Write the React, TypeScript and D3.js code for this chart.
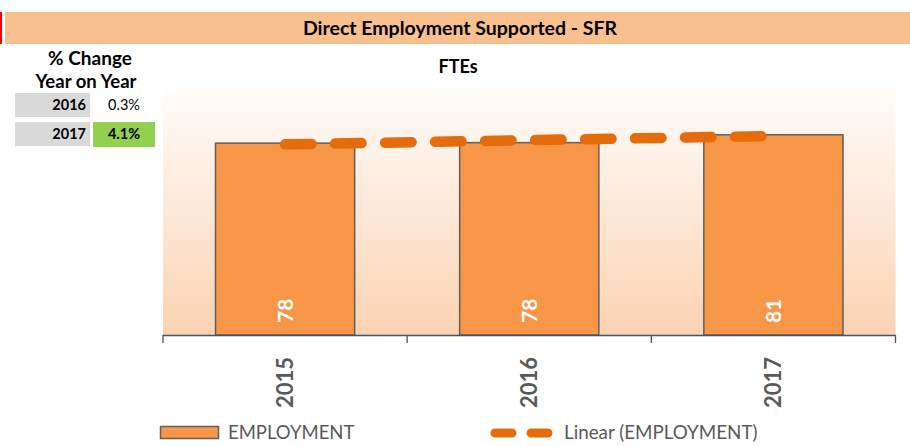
import React from "react";
import * as d3 from "d3";

const years = ["2015", "2016", "2017"];
const employment = [78.0, 78.2, 81.4];
const valueLabels = ["78", "78", "81"];
const changeYears = ["2016", "2017"];
const changeLabels = ["0.3%", "4.1%"];
const changeHighlight = [false, true];
const yDomain = [0, 100];

const W = 910;
const H = 446;
const plotLeft = 163;
const plotRight = 895.5;
const plotTop = 89;
const plotBottom = 335;

export default function App() {
  const x = d3
    .scaleBand<string>()
    .domain(years)
    .range([plotLeft, plotRight])
    .paddingInner(0.43)
    .paddingOuter(0.215);
  const y = d3.scaleLinear().domain(yDomain).range([plotBottom, plotTop]);

  // linear trend (least squares) on index
  const n = employment.length;
  const idx = d3.range(n);
  const mx = d3.mean(idx) as number;
  const my = d3.mean(employment) as number;
  const slope =
    d3.sum(idx, (i) => (i - mx) * (employment[i] - my)) /
    d3.sum(idx, (i) => (i - mx) * (i - mx));
  const intercept = my - slope * mx;
  const trendPts: [number, number][] = [0, n - 1].map((i) => [
    (x(years[i]) as number) + x.bandwidth() / 2,
    y(intercept + slope * i),
  ]);
  const line = d3.line();

  const step = x.step();
  const tickXs = [plotLeft, ...years.map((yr) => (x(yr) as number) - (step - x.bandwidth()) / 2 + step)];

  const font = "Lato, 'Open Sans', sans-serif";
  const gray = "#595959";

  return (
    <svg
      width={W}
      height={H}
      style={{ position: "absolute", left: 0, top: 0, fontFamily: font }}
    >
      <defs>
        <linearGradient id="bg" x1="0" y1="0" x2="0" y2="1">
          <stop offset="0%" stopColor="#FFFCFA" />
          <stop offset="100%" stopColor="#FBD3B2" />
        </linearGradient>
      </defs>
      <rect x={0} y={0} width={W} height={H} fill="#FFFFFF" />
      {/* header band */}
      <rect x={0} y={12} width={2} height={32} fill="#FF0000" />
      <rect x={5} y={12} width={905} height={32} fill="#F9C08F" />
      <text x={460} y={35} textAnchor="middle" fontSize={19.5} fontWeight={700} fill="#000">
        Direct Employment Supported - SFR
      </text>

      {/* left table */}
      <text x={90} y={65} textAnchor="middle" fontSize={19} fontWeight={700} fill="#000">
        % Change
      </text>
      <text x={86} y={88} textAnchor="middle" fontSize={18.5} fontWeight={700} fill="#000">
        Year on Year
      </text>
      {changeYears.map((yr, i) => {
        const top = i === 0 ? 93 : 122;
        return (
          <g key={yr}>
            <rect x={15} y={top} width={75} height={24} fill="#D9D9D9" />
            {changeHighlight[i] && <rect x={93} y={top} width={62} height={25} fill="#92D050" />}
            <text x={86} y={top + 17} textAnchor="end" fontSize={14.5} fontWeight={700} fill="#000">
              {yr}
            </text>
            <text
              x={124}
              y={top + 17}
              textAnchor="middle"
              fontSize={14.5}
              fontWeight={changeHighlight[i] ? 700 : 400}
              fill="#000"
            >
              {changeLabels[i]}
            </text>
          </g>
        );
      })}

      {/* chart subtitle */}
      <text x={458} y={73} textAnchor="middle" fontSize={18} fontWeight={700} fill="#000">
        FTEs
      </text>

      {/* plot background */}
      <rect
        x={plotLeft}
        y={plotTop}
        width={plotRight - plotLeft}
        height={plotBottom - plotTop}
        fill="url(#bg)"
      />

      {/* bars */}
      {years.map((yr, i) => (
        <rect
          key={yr}
          x={x(yr)}
          y={y(employment[i])}
          width={x.bandwidth()}
          height={plotBottom - y(employment[i])}
          fill="#F79646"
          stroke="#5F5F5F"
          strokeWidth={1.5}
        />
      ))}

      {/* value labels */}
      {years.map((yr, i) => {
        const cx = (x(yr) as number) + x.bandwidth() / 2;
        return (
          <text
            key={yr}
            transform={`translate(${cx + 7.5},${plotBottom - 12}) rotate(-90)`}
            fontSize={21}
            fontWeight={700}
            fill="#FFFFFF"
          >
            {valueLabels[i]}
          </text>
        );
      })}

      {/* trendline */}
      <path
        d={line(trendPts) as string}
        fill="none"
        stroke="#E46C0A"
        strokeWidth={10.5}
        strokeLinecap="round"
        strokeDasharray="26.5 23.5"
      />

      {/* x axis */}
      <line x1={plotLeft} x2={plotRight} y1={plotBottom + 0.5} y2={plotBottom + 0.5} stroke="#44546A" strokeWidth={1.3} />
      {tickXs.map((tx, i) => (
        <line key={i} x1={tx} x2={tx} y1={plotBottom} y2={plotBottom + 8} stroke="#44546A" strokeWidth={1.3} />
      ))}
      {years.map((yr) => {
        const cx = (x(yr) as number) + x.bandwidth() / 2;
        return (
          <text
            key={yr}
            transform={`translate(${cx + 8},357) rotate(-90)`}
            textAnchor="end"
            fontSize={22}
            fontWeight={700}
            fill={gray}
          >
            {yr}
          </text>
        );
      })}

      {/* legend */}
      <rect x={160.5} y={426.5} width={58} height={12} fill="#F79646" stroke="#5F5F5F" strokeWidth={1.5} />
      <text x={228} y={439} fontSize={18.5} fill={gray}>
        EMPLOYMENT
      </text>
      <line
        x1={495}
        x2={548}
        y1={433}
        y2={433}
        stroke="#E46C0A"
        strokeWidth={9}
        strokeLinecap="round"
        strokeDasharray="17 19"
      />
      <text x={564} y={439} fontSize={18.8} fill={gray}>
        Linear (EMPLOYMENT)
      </text>
    </svg>
  );
}
